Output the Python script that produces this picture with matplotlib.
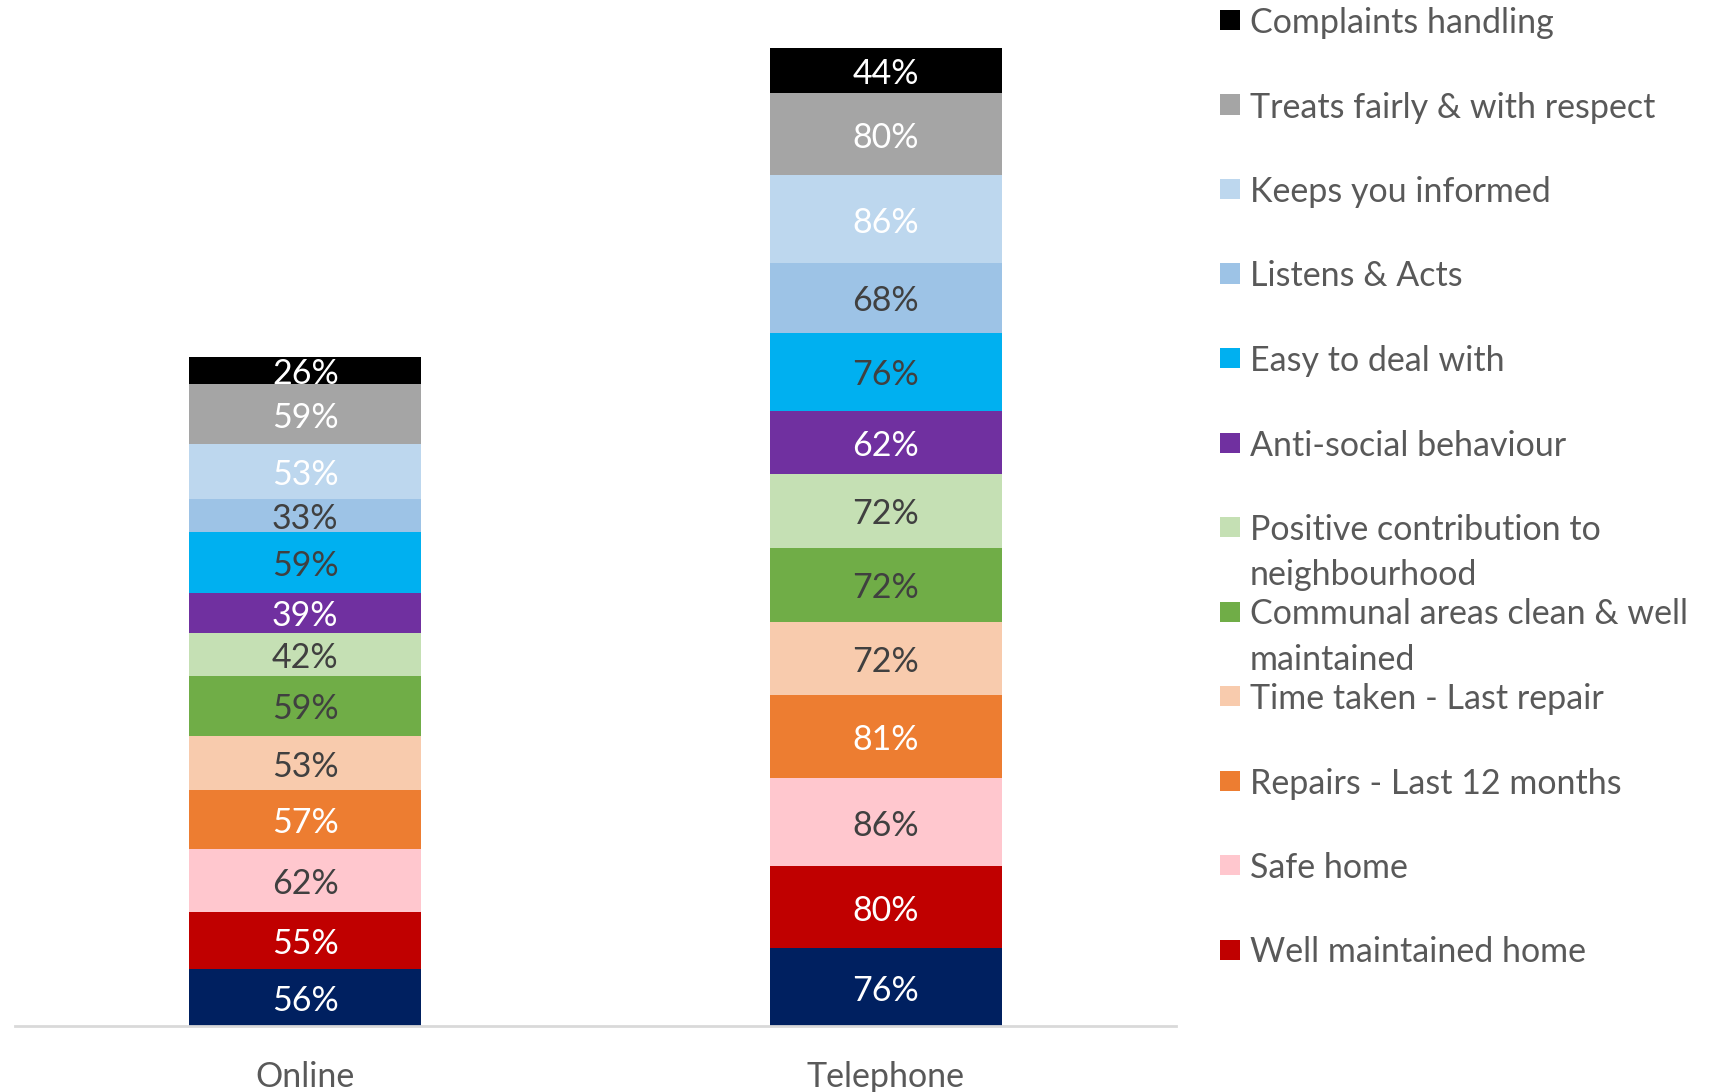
import matplotlib.pyplot as plt
from matplotlib.patches import Rectangle

# Satisfaction scores by survey channel, bottom of the stack first
channels = ["Online", "Telephone"]
measures = ["Well maintained home", "Safe home", "Repairs - Last 12 months",
            "Time taken - Last repair", "Communal areas clean & well\nmaintained",
            "Positive contribution to\nneighbourhood", "Anti-social behaviour",
            "Easy to deal with", "Listens & Acts", "Keeps you informed",
            "Treats fairly & with respect", "Complaints handling"]
online = [56, 55, 62, 57, 53, 59, 42, 39, 59, 33, 53, 59, 26]
telephone = [76, 80, 86, 81, 72, 72, 72, 62, 76, 68, 86, 80, 44]

# the first (navy) segment has no legend entry
colors = ["#002060", "#C00000", "#FFC7CE", "#ED7D31", "#F8CBAD", "#70AD47",
          "#C5E0B4", "#7030A0", "#00B0F0", "#9DC3E6", "#BDD7EE", "#A5A5A5", "#000000"]
label_colors = ["white", "white", "#404040", "white", "#404040", "#404040",
                "#404040", "white", "#404040", "#404040", "white", "white", "white"]

plt.rcParams['font.family'] = ['Lato', 'DejaVu Sans']
text_grey = "#595959"

fig = plt.figure(figsize=(17.27, 10.92), dpi=100)
ax = fig.add_axes([0.0087, 1 - 1026 / 1092, 0.6723, 1026 / 1092])

x = [0, 1]
bottoms = [0, 0]
for i in range(len(online)):
    vals = [online[i], telephone[i]]
    ax.bar(x, vals, width=0.4, bottom=bottoms, color=colors[i], linewidth=0)
    for j in range(2):
        ax.annotate(f"{vals[j]}%", (x[j], bottoms[j] + vals[j] / 2), xytext=(0, -2.5),
                    textcoords="offset points", ha="center", va="center",
                    fontsize=24.5, color=label_colors[i])
    bottoms = [bottoms[0] + vals[0], bottoms[1] + vals[1]]

ax.set_xlim(-0.5, 1.5)
ax.set_ylim(0, 1002)
ax.set_yticks([])
ax.set_xticks(x)
ax.set_xticklabels(channels, fontsize=24.5, color=text_grey)
ax.tick_params(axis="x", length=0, pad=25)
for side in ["top", "left", "right"]:
    ax.spines[side].set_visible(False)
ax.spines["bottom"].set_color("#D9D9D9")
ax.spines["bottom"].set_linewidth(2)

# legend drawn entry by entry, evenly spaced, top entry first
W, H = 1727, 1092
legend_order = list(reversed(range(1, 13)))
for k, i in enumerate(legend_order):
    yc = 20 + k * 84.5
    fig.add_artist(Rectangle((1220 / W, 1 - (yc + 10) / H), 20 / W, 20 / H,
                             transform=fig.transFigure, facecolor=colors[i], linewidth=0))
    lines = measures[i - 1].split("\n")
    for n, line in enumerate(lines):
        fig.text(1250 / W, 1 - (yc + 3 + n * 45) / H, line, ha="left", va="center",
                 fontsize=24.5, color=text_grey)

fig.savefig("out.png", dpi=100)
